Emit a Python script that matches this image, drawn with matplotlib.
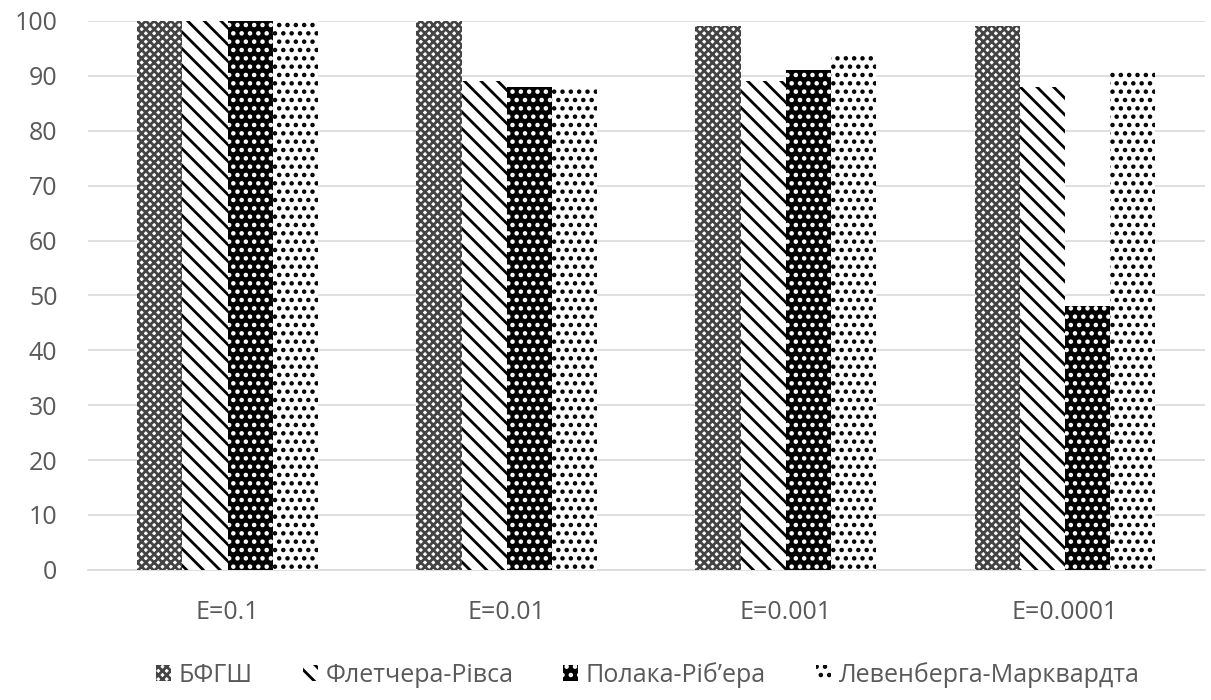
import numpy as np
import matplotlib.pyplot as plt
from matplotlib.patches import Patch

# Дані: відсоток успішних запусків для кожного методу
categories = ['E=0.1', 'E=0.01', 'E=0.001', 'E=0.0001']
methods = ['БФГШ', 'Флетчера-Рівса', 'Полака-Ріб\u2019ера', 'Левенберга-Марквардта']
bfgs = [100, 100, 99, 99]
fletcher = [100, 89, 89, 88]
polak = [100, 88, 91, 48]
levenberg = [100, 88, 94, 91]
yticks = list(range(0, 101, 10))

series = [bfgs, fletcher, polak, levenberg]
styles = [
    dict(facecolor='white', edgecolor='#444444', hatch='xxxx'),
    dict(facecolor='white', edgecolor='black', hatch='\\\\'),
    dict(facecolor='black', edgecolor='white', hatch='..'),
    dict(facecolor='white', edgecolor='black', hatch='..'),
]

plt.rcParams['font.family'] = ['Open Sans', 'DejaVu Sans']
plt.rcParams['hatch.linewidth'] = 2.0

fig = plt.figure(figsize=(12.11, 7), dpi=100)
ax = fig.add_axes([0.0727, 0.186, 0.922, 0.784])

x = np.arange(len(categories))
width = 0.162
for i, (vals, st) in enumerate(zip(series, styles)):
    ax.bar(x + (i - 1.5) * width, vals, width, linewidth=0, label=methods[i], zorder=3, **st)

ax.set_xlim(-0.5, len(categories) - 0.5)
ax.set_ylim(0, 100)
ax.set_yticks(yticks)
ax.set_xticks(x)
ax.set_xticklabels(categories)
ax.yaxis.grid(True, color='#d9d9d9', linewidth=1.2, zorder=0)
for side in ['top', 'right', 'left']:
    ax.spines[side].set_visible(False)
ax.spines['bottom'].set_color('#d9d9d9')
ax.spines['bottom'].set_linewidth(1.2)
ax.tick_params(axis='both', length=0, labelsize=18, colors='#595959')
ax.tick_params(axis='x', pad=22)
ax.tick_params(axis='y', pad=22)

handles = [Patch(label=m, linewidth=0, **st) for m, st in zip(methods, styles)]
fig.legend(handles=handles, loc='lower center', ncol=4, frameon=False,
           fontsize=18, labelcolor='#595959', bbox_to_anchor=(0.535, -0.015),
           handlelength=0.6, handleheight=0.6, handletextpad=0.3, columnspacing=2.0)

fig.savefig('out.png', dpi=100)
